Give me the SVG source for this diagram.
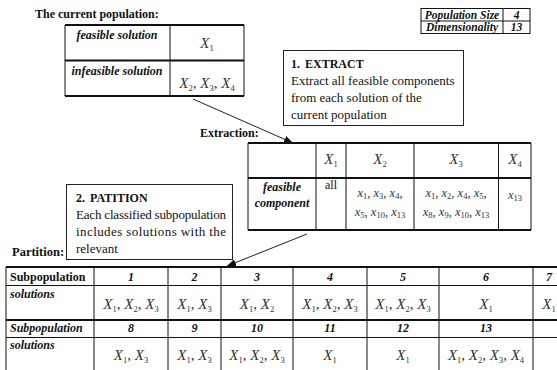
<svg xmlns="http://www.w3.org/2000/svg" width="557" height="370" viewBox="0 0 557 370" font-family="'Liberation Serif', 'Times New Roman', serif">
  <style>
    text { font-family: "Liberation Serif", "Times New Roman", serif; fill: #111; }
    .h { font-size: 12px; font-weight: bold; }
    .bi { font-size: 12px; font-weight: bold; font-style: italic; }
    .ps { font-size: 11.5px; font-weight: bold; font-style: italic; }
    .bb { font-size: 12px; font-weight: bold; }
    .bbi { font-size: 12px; font-weight: bold; font-style: italic; }
    .tx { font-size: 13px; }
    .m { font-size: 15px; font-style: italic; fill: #333; }
    .mx { font-size: 12.5px; font-style: italic; fill: #333; }
    .s { font-size: 8.5px; font-style: normal; }
    .c { font-style: normal; }
    .thin { stroke: #111; stroke-width: 1; fill: none; }
    .thick { stroke: #111; stroke-width: 2.2; fill: none; }
    .box { stroke: #222; stroke-width: 1; fill: #fff; }
    .conn { stroke: #222; stroke-width: 1; fill: none; marker-end: url(#arr); }
  </style>
  <defs>
    <marker id="arr" viewBox="0 0 10 10" refX="10" refY="5" markerWidth="9" markerHeight="9" markerUnits="userSpaceOnUse" orient="auto">
      <path d="M0,1 L10,5 L0,9 Z" fill="#111"/>
    </marker>
  </defs>
  <rect width="557" height="370" fill="#fff"/>

  <!-- current population table -->
  <g id="current-population">
    <text class="h" x="35" y="18">The current population:</text>
    <path class="thin" d="M65,25 V96 M170,25 V96 M244,25 V96"/>
    <path class="thick" d="M65,25 H244 M65,60.5 H244 M65,96 H244"/>
    <text class="bi" x="117" y="39" text-anchor="middle">feasible solution</text>
    <text class="bi" x="117" y="75" text-anchor="middle">infeasible solution</text>
    <text class="m" x="207" y="48" text-anchor="middle">X<tspan class="s" dy="3">1</tspan></text>
    <text class="m" x="207" y="88" text-anchor="middle">X<tspan class="s" dy="3">2</tspan><tspan class="c" dy="-3">, </tspan>X<tspan class="s" dy="3">3</tspan><tspan class="c" dy="-3">, </tspan>X<tspan class="s" dy="3">4</tspan></text>
  </g>

  <!-- parameter table -->
  <g id="parameters">
    <rect class="thin" x="421" y="8.5" width="109" height="25"/>
    <path class="thin" d="M421,21 H530 M503,8.5 V33.5"/>
    <text class="ps" x="462" y="19" text-anchor="middle">Population Size</text>
    <text class="ps" x="516.5" y="19" text-anchor="middle">4</text>
    <text class="ps" x="462" y="31" text-anchor="middle">Dimensionality</text>
    <text class="ps" x="516.5" y="31" text-anchor="middle">13</text>
  </g>

  <!-- step 1 note -->
  <g id="step-extract">
    <rect class="box" x="283.5" y="50.5" width="180" height="75"/>
    <text class="h" x="291" y="68">1.<tspan x="305">EXTRACT</tspan></text>
    <text class="tx" x="291" y="85">Extract all feasible components</text>
    <text class="tx" x="291" y="102">from each solution of the</text>
    <text class="tx" x="291" y="119">current population</text>
  </g>

  <!-- extraction table -->
  <g id="extraction">
    <text class="h" x="200" y="137">Extraction:</text>
    <path class="thin" d="M248,143 V230 M316,143 V230 M346,143 V230 M414,143 V230 M498.5,143 V230 M531,143 V230"/>
    <path class="thick" d="M248,143 H531 M248,178 H531 M248,230 H531"/>
    <text class="m" x="331" y="164" text-anchor="middle">X<tspan class="s" dy="3">1</tspan></text>
    <text class="m" x="380" y="164" text-anchor="middle">X<tspan class="s" dy="3">2</tspan></text>
    <text class="m" x="456" y="164" text-anchor="middle">X<tspan class="s" dy="3">3</tspan></text>
    <text class="m" x="515" y="164" text-anchor="middle">X<tspan class="s" dy="3">4</tspan></text>
    <text class="bi" x="282" y="191" text-anchor="middle">feasible</text>
    <text class="bi" x="282" y="207" text-anchor="middle">component</text>
    <text class="tx" x="331" y="189" text-anchor="middle" style="font-size:12px">all</text>
    <text class="mx" x="380" y="197" text-anchor="middle">x<tspan class="s" dy="2">1</tspan><tspan class="c" dy="-2">, </tspan>x<tspan class="s" dy="2">3</tspan><tspan class="c" dy="-2">, </tspan>x<tspan class="s" dy="2">4</tspan><tspan class="c" dy="-2">,</tspan></text>
    <text class="mx" x="380" y="216" text-anchor="middle">x<tspan class="s" dy="2">5</tspan><tspan class="c" dy="-2">, </tspan>x<tspan class="s" dy="2">10</tspan><tspan class="c" dy="-2">, </tspan>x<tspan class="s" dy="2">13</tspan></text>
    <text class="mx" x="456" y="197" text-anchor="middle">x<tspan class="s" dy="2">1</tspan><tspan class="c" dy="-2">, </tspan>x<tspan class="s" dy="2">2</tspan><tspan class="c" dy="-2">, </tspan>x<tspan class="s" dy="2">4</tspan><tspan class="c" dy="-2">, </tspan>x<tspan class="s" dy="2">5</tspan><tspan class="c" dy="-2">,</tspan></text>
    <text class="mx" x="456" y="216" text-anchor="middle">x<tspan class="s" dy="2">8</tspan><tspan class="c" dy="-2">, </tspan>x<tspan class="s" dy="2">9</tspan><tspan class="c" dy="-2">, </tspan>x<tspan class="s" dy="2">10</tspan><tspan class="c" dy="-2">, </tspan>x<tspan class="s" dy="2">13</tspan></text>
    <text class="mx" x="515" y="199" text-anchor="middle">x<tspan class="s" dy="2">13</tspan></text>
  </g>

  <!-- step 2 note -->
  <g id="step-partition">
    <rect class="box" x="66.5" y="184.5" width="166" height="75"/>
    <text class="h" x="76" y="202">2.<tspan x="90">PATITION</tspan></text>
    <text class="tx" x="76" y="219" textLength="150" lengthAdjust="spacing">Each classified subpopulation</text>
    <text class="tx" x="76" y="236" textLength="150" lengthAdjust="spacing">includes  solutions  with  the</text>
    <text class="tx" x="76" y="253">relevant</text>
  </g>

  <!-- partition table -->
  <g id="partition">
    <text class="h" x="12" y="256" style="font-size:12.5px">Partition:</text>
    <path class="thin" d="M6,267 V370 M94,267 V370 M168,267 V370 M221,267 V370 M293,267 V370 M367,267 V370 M439,267 V370 M533,267 V370"/>
    <path class="thick" d="M6,267 H557 M6,320 H557"/>
    <path class="thin" d="M6,285.5 H557 M6,337.5 H557"/>
    <text class="bb" x="10" y="281">Subpopulation</text>
    <text class="bbi" x="10" y="298">solutions</text>
    <text class="bbi" x="10" y="332">Subpopulation</text>
    <text class="bbi" x="10" y="349">solutions</text>
    <g text-anchor="middle">
      <text class="bi" x="131" y="281">1</text>
      <text class="bi" x="194.5" y="281">2</text>
      <text class="bi" x="257" y="281">3</text>
      <text class="bi" x="330" y="281">4</text>
      <text class="bi" x="403" y="281">5</text>
      <text class="bi" x="486" y="281">6</text>
      <text class="bi" x="549" y="281">7</text>
      <text class="bi" x="131" y="332">8</text>
      <text class="bi" x="194.5" y="332">9</text>
      <text class="bi" x="257" y="332">10</text>
      <text class="bi" x="330" y="332">11</text>
      <text class="bi" x="403" y="332">12</text>
      <text class="bi" x="486" y="332">13</text>
    </g>
    <g text-anchor="middle">
      <text class="m" x="131" y="309">X<tspan class="s" dy="3">1</tspan><tspan class="c" dy="-3">, </tspan>X<tspan class="s" dy="3">2</tspan><tspan class="c" dy="-3">, </tspan>X<tspan class="s" dy="3">3</tspan></text>
      <text class="m" x="194.5" y="309">X<tspan class="s" dy="3">1</tspan><tspan class="c" dy="-3">, </tspan>X<tspan class="s" dy="3">3</tspan></text>
      <text class="m" x="257" y="309">X<tspan class="s" dy="3">1</tspan><tspan class="c" dy="-3">, </tspan>X<tspan class="s" dy="3">2</tspan></text>
      <text class="m" x="330" y="309">X<tspan class="s" dy="3">1</tspan><tspan class="c" dy="-3">, </tspan>X<tspan class="s" dy="3">2</tspan><tspan class="c" dy="-3">, </tspan>X<tspan class="s" dy="3">3</tspan></text>
      <text class="m" x="403" y="309">X<tspan class="s" dy="3">1</tspan><tspan class="c" dy="-3">, </tspan>X<tspan class="s" dy="3">2</tspan><tspan class="c" dy="-3">, </tspan>X<tspan class="s" dy="3">3</tspan></text>
      <text class="m" x="486" y="309">X<tspan class="s" dy="3">1</tspan></text>
      <text class="m" x="549" y="309">X<tspan class="s" dy="3">1</tspan></text>
      <text class="m" x="131" y="360">X<tspan class="s" dy="3">1</tspan><tspan class="c" dy="-3">, </tspan>X<tspan class="s" dy="3">3</tspan></text>
      <text class="m" x="194.5" y="360">X<tspan class="s" dy="3">1</tspan><tspan class="c" dy="-3">, </tspan>X<tspan class="s" dy="3">3</tspan></text>
      <text class="m" x="257" y="360">X<tspan class="s" dy="3">1</tspan><tspan class="c" dy="-3">, </tspan>X<tspan class="s" dy="3">2</tspan><tspan class="c" dy="-3">, </tspan>X<tspan class="s" dy="3">3</tspan></text>
      <text class="m" x="330" y="360">X<tspan class="s" dy="3">1</tspan></text>
      <text class="m" x="403" y="360">X<tspan class="s" dy="3">1</tspan></text>
      <text class="m" x="486" y="360">X<tspan class="s" dy="3">1</tspan><tspan class="c" dy="-3">, </tspan>X<tspan class="s" dy="3">2</tspan><tspan class="c" dy="-3">, </tspan>X<tspan class="s" dy="3">3</tspan><tspan class="c" dy="-3">, </tspan>X<tspan class="s" dy="3">4</tspan></text>
    </g>
  </g>

  <!-- connectors -->
  <g id="connectors">
    <path class="conn" d="M193,99 L293,143"/>
    <path class="conn" d="M307,234 L227,266"/>
  </g>
</svg>
